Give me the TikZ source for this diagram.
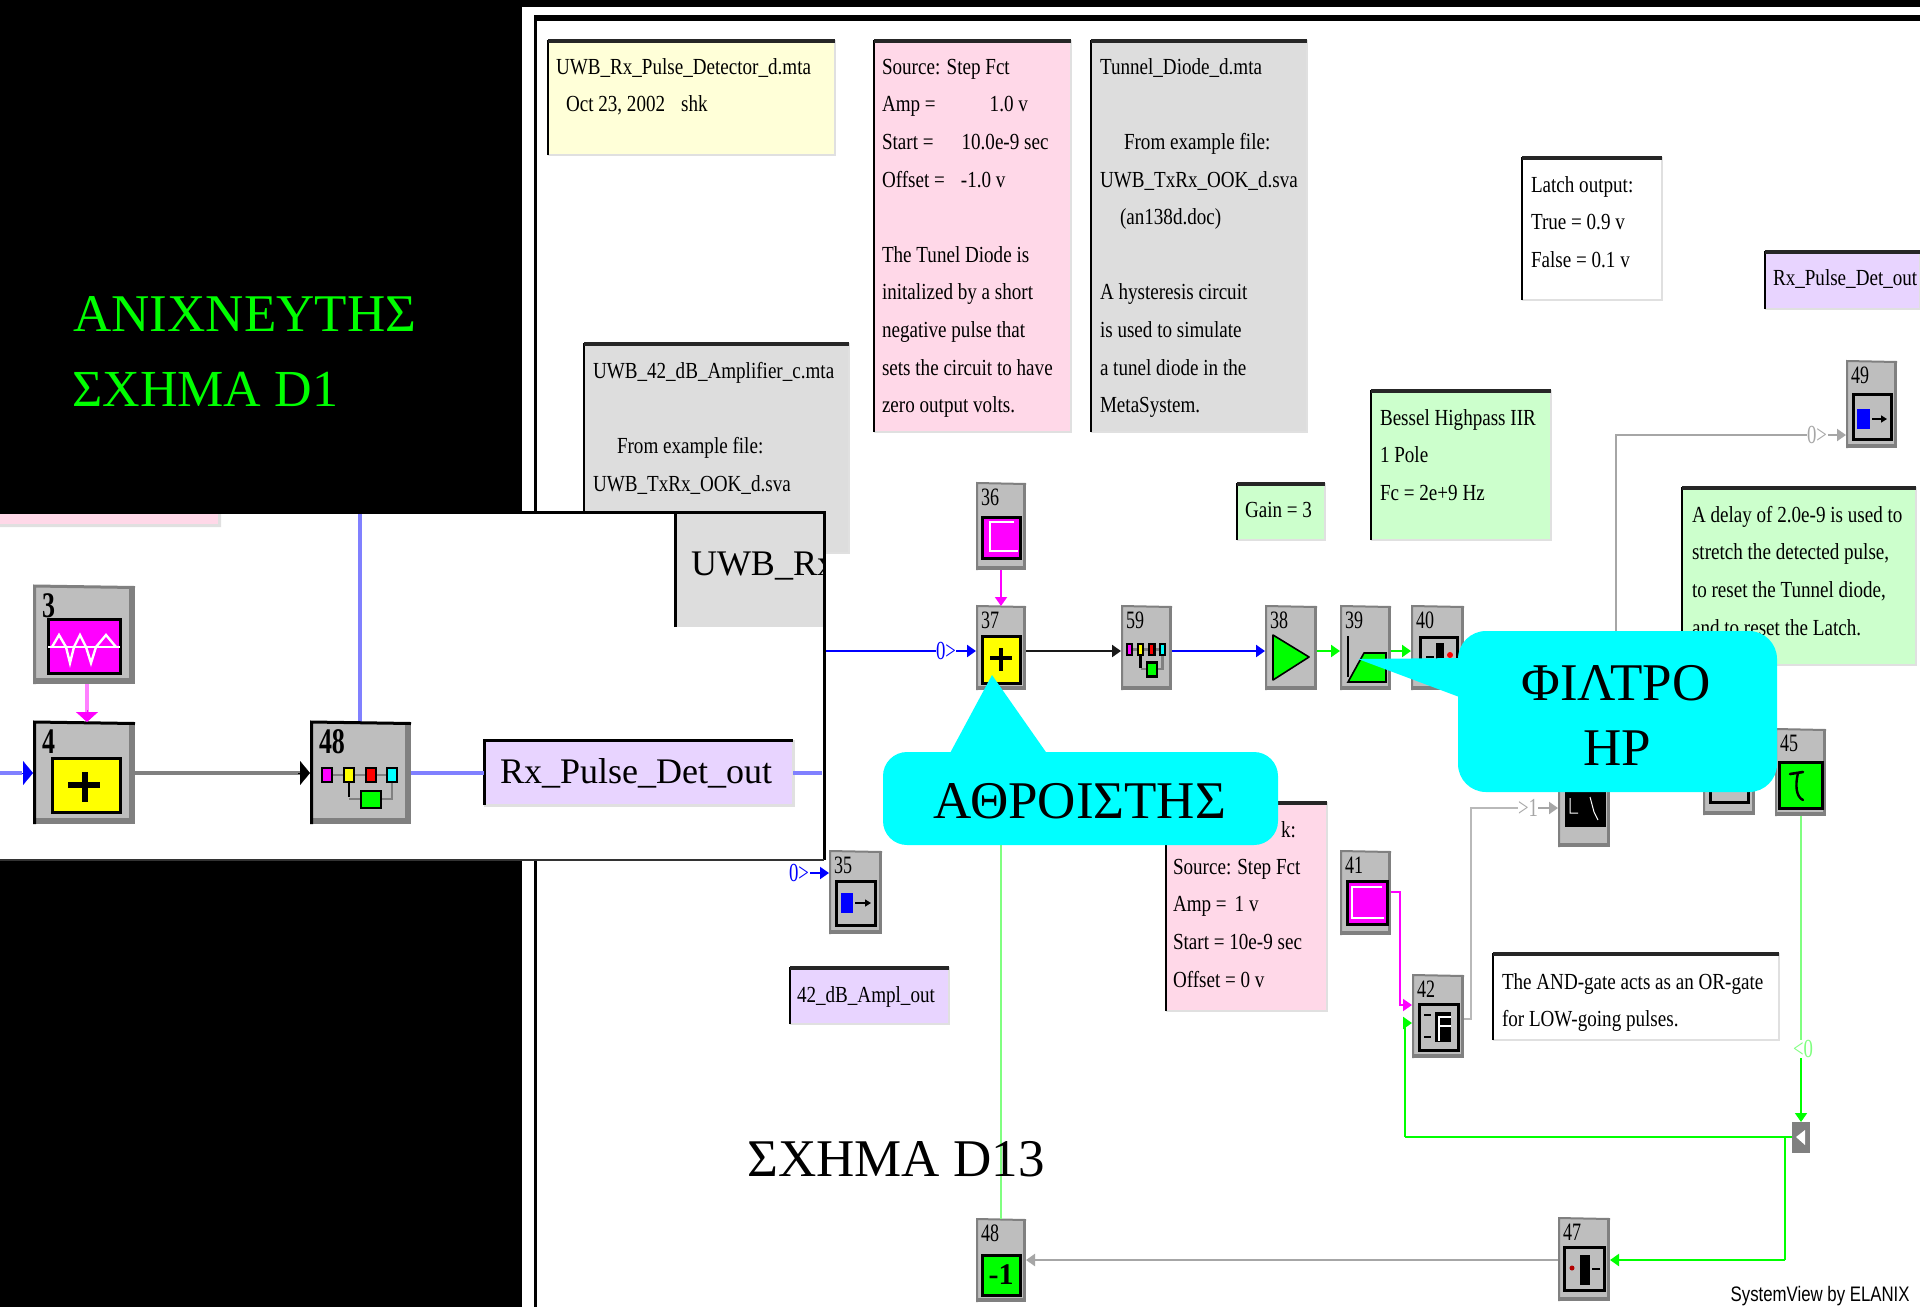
\documentclass[tikz,border=0pt]{standalone}
\usepackage{fontspec}
\usetikzlibrary{arrows.meta,calc}
\setmainfont{Liberation Serif}
\newfontfamily\pix[FakeStretch=0.83]{Liberation Serif}
\newfontfamily\pixnum[FakeStretch=0.72]{Liberation Serif}
\newfontfamily\elanix[FakeStretch=0.8]{Liberation Sans}
\definecolor{notepink}{HTML}{FFD8E8}
\definecolor{notegray}{HTML}{DDDDDD}
\definecolor{noteyellow}{HTML}{FFFFD8}
\definecolor{notegreen}{HTML}{CCFFCC}
\definecolor{notelilac}{HTML}{E8D4FF}
\definecolor{blockgray}{HTML}{BEBEBE}
\definecolor{edgegray}{HTML}{808080}
\definecolor{softblue}{HTML}{8080FF}
\definecolor{softmag}{HTML}{FF80FF}
\definecolor{softgreen}{HTML}{80FF80}
\definecolor{callcyan}{HTML}{00FFFF}
\definecolor{magenta}{rgb}{1,0,1}
\definecolor{cyan}{rgb}{0,1,1}
\definecolor{green}{rgb}{0,1,0}
\definecolor{blue}{rgb}{0,0,1}
\definecolor{yellow}{rgb}{1,1,0}
\tikzset{
  body/.style={inner sep=0,outer sep=0,draw=none},
  notetext/.style={inner sep=0,outer sep=0,anchor=north west,align=left,black,font=\pix\fontsize{11.5}{18.8}\selectfont},
  numtext/.style={inner sep=0,outer sep=0,anchor=north west,black,font=\pixnum\fontsize{12.5}{13}\selectfont},
  bignum/.style={inner sep=0,outer sep=0,anchor=north west,black,font=\pixnum\bfseries\fontsize{18}{18}\selectfont},
  frameicon/.style={draw=black,line width=1.5pt},
  tiny/.style={inner sep=0,font=\pixnum\fontsize{13}{13}\selectfont},
  headS/.style={-{Triangle[length=4.5pt,width=6pt]}},
  headB/.style={-{Triangle[length=5pt,width=11pt]}},
  wblue/.style={draw=blue,line width=1.4pt},
  wblack/.style={draw=black!90,line width=1.4pt},
  wgreen/.style={draw=green,line width=1.4pt},
  wthin/.style={draw=softgreen,line width=.8pt},
  wgray/.style={draw=edgegray!70,line width=1pt},
  wmag/.style={draw=magenta,line width=.9pt},
  wsoft/.style={draw=softblue,line width=1.8pt},
  call/.style={fill=callcyan,draw=none},
  calltext/.style={inner sep=0,black,font=\fontsize{26.5}{32}\selectfont,align=center},
}
% name x1 y1 x2 y2 colour
\newcommand\notebox[6]{%
  \node[body,fill=#6,minimum width={(#4-#2)*0.5pt},minimum height={(#5-#3)*0.5pt}] (#1) at ({(#2+#4)/2},{(#3+#5)/2}) {};
  \draw[black!12,line width=1.2pt] (#1.north east) -- (#1.south east) -- (#1.south west);
  \draw[black,line width=1pt] (#1.south west) -- (#1.north west);
  \draw[black!85,line width=2pt] ([yshift=-.5pt]#1.north west) -- ([yshift=-.5pt]#1.north east);
}
% name x1 y1 x2 y2 number
\newcommand\blockbox[6]{%
  \node[body,fill=blockgray,minimum width={(#4-#2)*0.5pt},minimum height={(#5-#3)*0.5pt}] (#1) at ({(#2+#4)/2},{(#3+#5)/2}) {};
  \draw[edgegray,line width=1.4pt] ([xshift=-.7pt]#1.north east) -- ([xshift=-.7pt]#1.south east);
  \draw[edgegray,line width=2pt] ([yshift=1pt]#1.south west) -- ([yshift=1pt]#1.south east);
  \draw[edgegray,line width=1pt] ([xshift=.5pt]#1.south west) -- ([xshift=.5pt]#1.north west) -- ([yshift=-.5pt]#1.north east);
  \node[numtext] at ($(#1.north west)+(5,6)$) {#6};
}
% big block in the inset
\newcommand\bigblock[7]{%
  \node[body,fill=blockgray,minimum width={(#4-#2)*0.5pt},minimum height={(#5-#3)*0.5pt}] (#1) at ({(#2+#4)/2},{(#3+#5)/2}) {};
  \draw[edgegray,line width=3pt] ([xshift=-1.5pt]#1.north east) -- ([xshift=-1.5pt]#1.south east);
  \draw[edgegray,line width=3pt] ([yshift=1.5pt]#1.south west) -- ([yshift=1.5pt]#1.south east);
  \draw[#7,line width=1.5pt] ([xshift=.75pt]#1.south west) -- ([xshift=.75pt]#1.north west) -- ([yshift=-.75pt]#1.north east);
  \node[bignum] at ($(#1.north west)+(9,8)$) {#6};
}
% x1 y1 x2 y2 colour
\newcommand\iconbox[5]{\draw[frameicon,fill=#5] (#1,#2) rectangle (#3,#4);}
% x0 y0 sx sy : meta-system symbol, in units of the big block
\newcommand\metaicon[4]{%
  \begin{scope}[shift={(#1,#2)},xscale=#3,yscale=#4]
    \draw[edgegray,line width=1.3pt] (17,53) -- (82,53);
    \draw[black,line width=1.3pt] (39,53) -- (39,75);
    \draw[edgegray,line width=1.3pt] (39,77) -- (82,77) -- (82,53);
    \foreach \cx/\cc in {17/magenta,39/yellow,61/red,82/cyan}
      \draw[black,line width=1.2pt,fill=\cc] (\cx-5,46) rectangle (\cx+5,60);
    \draw[black,line width=1.2pt,fill=green] (51,69) rectangle (71,86);
  \end{scope}}
\begin{document}
\begin{tikzpicture}[x=0.5pt,y=-0.5pt]
\useasboundingbox (0,0) rectangle (1920,1307);
\fill[black] (0,0) rectangle (1920,1307);
% window
\fill[white] (522,7) rectangle (1920,1307);
\fill[black] (534,15) rectangle (1920,21);
\fill[black] (534,15) rectangle (537,1307);

% notes
\notebox{nYellow}{548}{40}{835}{155}{noteyellow}
\node[notetext] at (556,48) {\strut UWB\_Rx\_Pulse\_Detector\_d.mta\\\hspace*{5pt}Oct 23, 2002\hspace{8pt}shk};
\notebox{nSource}{874}{40}{1071}{432}{notepink}
\node[notetext] at (882,48) {\strut Source: Step Fct\\Amp =\hspace{27pt}1.0 v\\Start =\hspace{14pt}10.0e-9 sec\\Offset =\hspace{8pt}-1.0 v\\\mbox{}\\The Tunel Diode is\\initalized by a short\\negative pulse that\\sets the circuit to have\\zero output volts.};
\notebox{nTunnel}{1091}{40}{1307}{432}{notegray}
\node[notetext] at (1100,48) {\strut Tunnel\_Diode\_d.mta\\\mbox{}\\\hspace*{12pt}From example file:\\UWB\_TxRx\_OOK\_d.sva\\\hspace*{10pt}(an138d.doc)\\\mbox{}\\A hysteresis circuit\\is used to simulate\\a tunel diode in the\\MetaSystem.};
\notebox{nAmp}{584}{343}{849}{553}{notegray}
\node[notetext] at (593,352) {\strut UWB\_42\_dB\_Amplifier\_c.mta\\\mbox{}\\\hspace*{12pt}From example file:\\UWB\_TxRx\_OOK\_d.sva};
\notebox{nLatch}{1522}{157}{1662}{300}{white}
\node[notetext] at (1531,166) {\strut Latch output:\\True = 0.9 v\\False = 0.1 v};
\notebox{nRxTop}{1765}{251}{1920}{309}{notelilac}
\node[notetext] at (1773,259) {\strut Rx\_Pulse\_Det\_out};
\notebox{nBessel}{1371}{390}{1551}{540}{notegreen}
\node[notetext] at (1380,399) {\strut Bessel Highpass IIR\\1 Pole\\Fc = 2e+9 Hz};
\notebox{nGain}{1237}{483}{1325}{540}{notegreen}
\node[notetext] at (1245,491) {\strut Gain = 3};
\notebox{nDelay}{1682}{487}{1916}{665}{notegreen}
\node[notetext] at (1692,496) {\strut A delay of 2.0e-9 is used to\\stretch the detected pulse,\\to reset the Tunnel diode,\\and to reset the Latch.};
\notebox{nAmplOut}{790}{967}{949}{1024}{notelilac}
\node[notetext] at (797,976) {\strut 42\_dB\_Ampl\_out};
\notebox{nReset}{1166}{802}{1327}{1011}{notepink}
\node[notetext] at (1281,811) {\strut k:};
\node[notetext] at (1173,848) {\strut Source:\hspace{3pt}Step Fct\\Amp =\hspace{4pt}1 v\\Start = 10e-9 sec\\Offset = 0 v};
\notebox{nAnd}{1493}{953}{1779}{1040}{white}
\node[notetext] at (1502,963) {\strut The AND-gate acts as an OR-gate\\for LOW-going pulses.};

% blocks
\blockbox{b36}{976}{483}{1026}{570}{36}
\blockbox{b37}{976}{606}{1026}{690}{37}
\blockbox{b59}{1121}{606}{1172}{690}{59}
\blockbox{b38}{1265}{606}{1317}{690}{38}
\blockbox{b39}{1340}{606}{1391}{690}{39}
\blockbox{b40}{1411}{606}{1464}{690}{40}
\blockbox{b35}{829}{851}{882}{934}{35}
\blockbox{b41}{1340}{851}{1391}{935}{41}
\blockbox{b42}{1412}{975}{1464}{1058}{42}
\blockbox{b48x}{976}{1219}{1026}{1302}{48}
\blockbox{b47}{1558}{1218}{1610}{1301}{47}
\blockbox{b49}{1846}{361}{1897}{448}{49}
\blockbox{bScope}{1558}{764}{1610}{847}{}
\blockbox{bHid}{1703}{731}{1755}{815}{}
\blockbox{b45}{1775}{729}{1826}{816}{45}
\node[body,fill=edgegray,minimum width=9pt,minimum height=15.5pt] (bTee) at (1801,1137.5) {};

% icons
\iconbox{982}{517}{1020}{558}{magenta}
\draw[white,line width=.7pt] (1014,522) -- (990,522) -- (990,551) -- (1018,551);
\iconbox{982}{636}{1020}{683}{yellow}
\draw[black,line width=2pt] (1001,648) -- (1001,671) (990,658) -- (1012,658);
\metaicon{1121}{606}{0.505}{0.82}
\draw[black,line width=.8pt,fill=green,line join=round] (1273,635) -- (1309,657) -- (1273,680) -- cycle;
\draw[black,line width=.7pt] (1348,636) -- (1348,677);
\draw[black,line width=.8pt,fill=green] (1348,682) -- (1364,653) -- (1386,653) -- (1386,682) -- cycle;
\iconbox{1420}{637}{1457}{680}{blockgray}
\fill[black] (1436,643) rectangle (1444,672);
\draw[black,line width=1pt] (1426,657) -- (1434,657);
\fill[red] (1450,655) circle (3);
% 35, 49 sink
\iconbox{836}{881}{875}{925}{blockgray}
\fill[blue] (841,893) rectangle (853,913);
\draw[black,line width=.8pt,-{Triangle[length=3pt,width=3.5pt]}] (855,903) -- (871,903);
\iconbox{1853}{394}{1891}{439}{blockgray}
\fill[blue] (1857,409) rectangle (1870,429);
\draw[black,line width=.8pt,-{Triangle[length=3pt,width=3.5pt]}] (1872,419) -- (1887,419);
% 41
\iconbox{1347}{881}{1387}{924}{magenta}
\draw[white,line width=.7pt] (1384,918) -- (1352,918) -- (1352,887) -- (1382,887);
% 42
\iconbox{1419}{1004}{1458}{1050}{blockgray}
\fill[black] (1435,1012) rectangle (1451,1042);
\draw[white,line width=.8pt] (1451,1017) -- (1439,1017) -- (1439,1041) (1439,1026) -- (1451,1026);
\draw[black,line width=1.2pt] (1424,1015) -- (1431,1015) (1424,1037) -- (1431,1037);
% 48
\iconbox{982}{1255}{1020}{1295}{green}
\node[inner sep=0,font=\bfseries\fontsize{15}{15}\selectfont] at (1001,1275) {-1};
% 47
\iconbox{1564}{1247}{1604}{1290}{blockgray}
\fill[black] (1580,1255) rectangle (1590,1285);
\fill[red!70!black] (1572,1268) circle (2.5);
\draw[black,line width=1pt] (1592,1269) -- (1600,1269);
% hidden scope
\iconbox{1566}{768}{1604}{825}{black}
\draw[white,line width=.5pt] (1570,798) -- (1570,813) -- (1578,813) (1590,797) -- (1594,812) -- (1598,820);
\iconbox{1710}{770}{1748}{802}{blockgray}
\fill[black] (1722,781) rectangle (1735,787);
% 45
\iconbox{1779}{762}{1822}{808}{green}
\draw[black,line width=1.3pt,line cap=round] (1790,774) -- (1803,772);
\draw[black,line width=1.2pt,line cap=round] (1798,773) .. controls (1795,785) and (1796,797) .. (1803,800);
% tee
\fill[white] (1796,1137) -- (1805,1130) -- (1805,1145) -- cycle;

% wires
\coordinate (yMain) at (0,651);
\coordinate (stubA) at (825,651);
\coordinate (lab0a) at (936,651);
\coordinate (lab0b) at (956,651);
\draw[wblue] (stubA) -- (lab0a);
\draw[wblue,headS] (lab0b) -- (b37.west |- yMain);
\node[tiny,blue] at (946,651) {0>};
\draw[wmag,headS] (b36.south) -- (b37.north);
\draw[wblack,headS] (b37.east |- yMain) -- (b59.west |- yMain);
\draw[wblue,headS] (b59.east |- yMain) -- (b38.west |- yMain);
\draw[wgreen,headS] (b38.east |- yMain) -- (b39.west |- yMain);
\draw[wgreen,headS] (b39.east |- yMain) -- (b40.west |- yMain);
\draw[wthin] (b37.south) -- (b48x.north);
\coordinate (l35) at (810,873);
\draw[blue,line width=1pt,headS] (l35) -- (b35.west |- l35);
\node[tiny,blue] at (799,873) {0>};
% output to 49
\coordinate (d1) at (1616,640);
\coordinate (d2) at (1616,435);
\coordinate (d3) at (1807,435);
\coordinate (d4) at (1828,435);
\draw[wgray] (d1) -- (d2) -- (d3);
\draw[wgray,headS] (d4) -- (b49.west |- d4);
\node[tiny,edgegray!70] at (1817,435) {0>};
% step 41 to 42
\coordinate (m1) at (1400,892);
\coordinate (m2) at (1400,1005);
\draw[wmag,headS] (b41.east |- m1) -- (m1) -- (m2) -- (b42.west |- m2);
% 42 to scope
\coordinate (g0) at (1471,1019);
\coordinate (g1) at (1471,808);
\coordinate (g2) at (1518,808);
\coordinate (g3) at (1538,808);
\draw[edgegray!55,line width=.8pt] (b42.east |- g0) -- (g0) -- (g1) -- (g2);
\draw[wgray,headS] (g3) -- (bScope.west |- g3);
\node[tiny,edgegray!70] at (1528,808) {>1};
% feedback
\coordinate (t1) at (1801,1040);
\coordinate (t2) at (1801,1058);
\coordinate (fbL) at (1405,1137);
\coordinate (fbU) at (1405,1023);
\coordinate (fbD) at (1785,1137);
\coordinate (fbB) at (1785,1260);
\draw[wthin] (b45.south -| t1) -- (t1);
\draw[wthin,headS,draw=green] (t2) -- (bTee.north -| t2);
\node[tiny,softgreen] at (1803,1049) {<0};
\draw[wgreen] (bTee.west |- fbD) -- (fbL);
\draw[wgreen,headS] (fbL) -- (fbU) -- (b42.west |- fbU);
\draw[draw=green,line width=.8pt] (fbD) -- (fbB);
\draw[wgreen,headS] (fbB) -- (b47.east |- fbB);
\draw[draw=edgegray!70,line width=1.4pt,headS] (b47.west |- fbB) -- (b48x.east |- fbB);

% inset panel
\node[body,fill=white,minimum width=412pt,minimum height=174pt] (inset) at (412,686) {};
\fill[notepink] (0,513) rectangle (218,524);
\fill[black!12] (0,524) rectangle (221,527) (218,513) rectangle (221,524);
\node[body,fill=notegray,minimum width=74.5pt,minimum height=57.5pt] (nUwb) at (749.5,569.5) {};
\draw[black,line width=1.5pt] (nUwb.south west) -- (nUwb.north west);
\begin{scope}
  \clip (675,512) rectangle (824,630);
  \node[inner sep=0,outer sep=0,anchor=west,font=\fontsize{18}{18}\selectfont] (tUwb) at (691,566) {UWB\_Rx};
\end{scope}
\draw[wsoft] (360,513) -- (360,722);
\bigblock{a3}{33}{586}{135}{684}{3}{edgegray}
\iconbox{48}{619}{120}{673}{magenta}
\draw[white,line width=1.2pt] (48,647) -- (120,647);
\draw[white,line width=1.2pt] (52,647) -- (59,635) -- (66,647) -- (70,663) -- (74,647) -- (80,635) -- (86,647) -- (91,663) -- (96,647) -- (106,635) -- (116,647);
\bigblock{a4}{33}{722}{135}{824}{4}{black}
\iconbox{52}{758}{120}{812}{yellow}
\draw[black,line width=3pt] (85,772) -- (85,802) (68,785) -- (100,785);
\bigblock{a48}{310}{722}{411}{824}{48}{black}
\metaicon{310}{722}{1}{1}
\node[body,fill=notelilac,minimum width=154.5pt,minimum height=32.5pt] (nRxBig) at (638.5,772.5) {};
\draw[black!12,line width=1.5pt] (nRxBig.north east) -- (nRxBig.south east) -- (nRxBig.south west);
\draw[black,line width=1.5pt] (nRxBig.south west) -- (nRxBig.north west) -- (nRxBig.north east);
\node[inner sep=0,outer sep=0,anchor=west,font=\fontsize{18}{18}\selectfont] (tRx) at (500,773) {Rx\_Pulse\_Det\_out};
\coordinate (aMain) at (0,773);
\coordinate (aEnd) at (822,773);
\draw[wsoft] (aMain) -- (22,773);
\draw[blue,line width=.1pt,-{Triangle[length=5pt,width=12pt]}] (22,773) -- (a4.west |- aMain);
\draw[draw=softmag,line width=1.6pt] (a3.south -| 87,0) -- (87,712);
\draw[draw=magenta,-{Triangle[length=5pt,width=11pt]}] (87,710) -- (a4.north -| 87,0);
\draw[draw=edgegray,line width=2.2pt] (a4.east |- aMain) -- (300,773);
\draw[black,line width=.1pt,-{Triangle[length=5pt,width=12pt]}] (298,773) -- (a48.west |- aMain);
\draw[wsoft] (a48.east |- aMain) -- (nRxBig.west |- aMain);
\draw[wsoft] (nRxBig.east |- aMain) -- (aEnd);
\draw[black,line width=1.5pt] (0,512) -- (824,512) -- (824,860);
\draw[black!80,line width=1.2pt] (0,860) -- (824,860);

% callouts
\fill[call,rounded corners=12pt] (883,752) rectangle (1278,845);
\fill[call] (949,755) -- (992,675) -- (1048,755) -- cycle;
\node[calltext] (cAdd) at (1080,801) {ΑΘΡΟΙΣΤΗΣ};
\fill[call,rounded corners=14pt] (1458,631) rectangle (1777,792);
\fill[call] (1462,658) -- (1358,659) -- (1462,698) -- cycle;
\node[calltext,anchor=base] (cFil) at (1616,700) {ΦΙΛΤΡΟ};
\node[calltext,anchor=base] (cHp) at (1617,765) {ΗΡ};

% captions
\node[inner sep=0,anchor=base west,text=green,font=\fontsize{26.5}{30}\selectfont] (tA) at (73,331) {ΑΝΙΧΝΕΥΤΗΣ};
\node[inner sep=0,anchor=base west,text=green,font=\fontsize{26}{30}\selectfont] (tB) at (72,406) {ΣΧΗΜΑ D1};
\node[inner sep=0,anchor=base west,font=\fontsize{26.5}{30}\selectfont] (tC) at (747,1176) {ΣΧΗΜΑ D13};
\node[inner sep=0,anchor=east,font=\elanix\fontsize{10.5}{12}\selectfont] (tS) at (1910,1296) {SystemView by ELANIX};
\end{tikzpicture}
\end{document}
